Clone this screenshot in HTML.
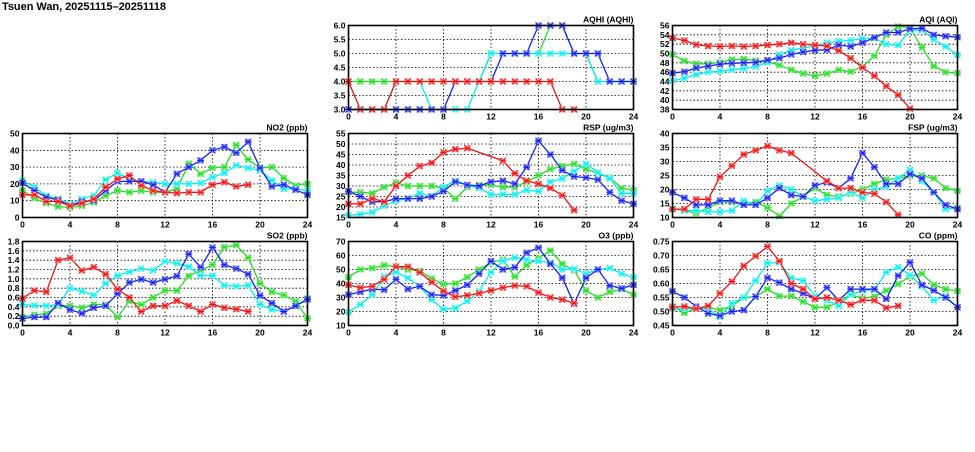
<!DOCTYPE html>
<html><head><meta charset="utf-8"><style>
html,body{margin:0;padding:0;background:#fff;}
svg text{font-family:"Liberation Sans",sans-serif;font-weight:bold;font-size:8.5px;fill:#000;}
</style></head><body>
<svg id="s" width="975" height="447" xmlns="http://www.w3.org/2000/svg">
<text x="2" y="10" style="font-size:11px;font-weight:bold" textLength="164">Tsuen Wan, 20251115–20251118</text>
</svg>
<script>
var panels=[
{t:"AQHI (AQHI)",x:348.5,y:25.5,min:3,max:6,step:0.5,d:1,s:[
[4,4,4,4,4,4,4,4,4,4,4,4,5,5,5,5,5,6,6,5,5,4,4,4,4],
[3,3,3,3,4,4,4,3,3,3,3,4,5,5,5,5,5,5,5,5,5,4,4,4,4],
[3,3,3,3,3,3,3,3,3,4,4,4,4,5,5,5,6,6,6,5,5,5,4,4,4],
[4,3,3,3,4,4,4,4,4,4,4,4,4,4,4,4,4,4,3,3]]},
{t:"AQI (AQI)",x:672.5,y:25.5,min:38,max:56,step:2,d:0,s:[
[49.8,48.4,47.8,47.8,48.1,48.7,48.8,48.5,48.2,47.5,46.5,45.7,45.2,45.7,46.5,46.1,47.2,49.5,54,55.8,55.5,51.3,47.3,46,45.8],
[44.2,44.7,45.5,46,46.2,46.5,46.8,47.2,48.1,49.8,50.7,51.2,51.6,52.3,52.6,52.8,53.2,53.3,52,51.8,55,55,53,51.5,49.7],
[45.8,46.1,46.9,47.3,47.7,47.9,48,48.1,48.6,49,49.8,50.3,50.7,50.8,51.8,51.5,52.3,53.4,54.5,54.5,55.3,55.4,54,53.7,53.5],
[53.3,52.8,51.9,51.6,51.5,51.6,51.5,51.6,51.8,52,52.3,52,51.8,51.6,50.6,49,47,45.2,43,41.1,38.2]]},
{t:"NO2 (ppb)",x:22.5,y:133.5,min:0,max:50,step:10,d:0,s:[
[16,11.5,8.5,6.5,6,7,9,13,16,15,16,15,15,17,32,26,29.5,30,43,34.5,29.5,30,23.5,19,20],
[22,18,13,11,8,11,13,22.5,26.5,23,21.5,21,20,20,20,20.5,24,26.5,31,29.5,28,22,17,17,16],
[20.5,16,12,10.5,7,9.5,10,16,21.5,21.5,21.5,19.5,15,26,30,34,40,42,38.5,45,29.5,18.5,19.5,16.5,13.5],
[13.5,13.5,9.5,9.5,7,8.5,11,18,23,25,19,16,15,14.5,15,15,19.5,21,18.5,19.5]]},
{t:"RSP (ug/m3)",x:348.5,y:133.5,min:15,max:55,step:5,d:0,s:[
[27,27,26.5,29.5,31.5,30,30,30,29,24,29.5,30.5,30.5,29.5,29.5,32,35,38,39.5,40.5,38,36,34,29,28],
[16,16.5,17.5,20.5,23,24,26.5,25,29.5,32.5,30.5,29,26,26,26,28,27.5,32,33.5,37,40.5,36.5,33.5,26.5,26.5],
[27.5,25,22.5,22.5,24,24,24,25,27.5,32,30.5,30,32,32.5,31,39,51.5,45,37.5,34.5,34,33,27,23,21.5],
[21.5,21.5,24,22.5,30,35,39.5,41,46,47.5,48,'g','g',42,36,32.5,31,29,25.5,18.5]]},
{t:"FSP (ug/m3)",x:672.5,y:133.5,min:10,max:40,step:5,d:0,s:[
[13,12.5,11.5,13.5,15.5,15.5,15,15.5,13.5,10.5,15,17.5,20.5,18,17.5,18.5,20,22,23.5,24,25,25,24,20.5,19.5],
[13,12.5,12.5,12,12,12.5,16,14.5,19.5,21.5,20,17.5,16,16.5,17,19,17,20,21,24,27,23,19,13,13.5],
[19,17,14.5,14.5,16,16,14.5,14.5,17,20.5,18,17.5,21.5,22.5,20.5,24,33,28,22,22,25.5,24,19,14.5,13],
[13,13,16.5,16.5,24.5,28.5,32.5,34,35.5,34,33,'g','g',23,20.5,20.5,19,18.5,15.5,11]]},
{t:"SO2 (ppb)",x:22.5,y:241.5,min:0,max:1.8,step:0.2,d:1,s:[
[.18,.23,.25,.42,.42,.38,.45,.45,.18,.52,.45,.6,.75,.75,1.06,1.18,1.3,1.68,1.72,1.45,.9,.72,.65,.52,.15],
[.45,.43,.42,.45,.8,.73,.65,.9,1.07,1.15,1.22,1.18,1.37,1.33,1.26,1.07,1.07,.86,.84,.86,.45,.34,.3,.42,.58],
[.15,.18,.18,.48,.34,.26,.38,.42,.68,.92,.99,.92,.99,1.06,1.53,1.25,1.67,1.3,1.22,1.1,.64,.48,.3,.42,.56],
[.58,.75,.72,1.4,1.45,1.18,1.25,1.1,.78,.6,.3,.42,.42,.53,.42,.3,.45,.38,.35,.3]]},
{t:"O3 (ppb)",x:348.5,y:241.5,min:10,max:70,step:10,d:0,s:[
[44.5,50,51,53,52,50,49,43.5,39.5,40,44.5,50,55,57,45,53,58,63.5,54,49.5,35,30,34,36,32],
[19.5,25,32,45,48,44,38,28.5,21.5,22.5,27.5,34.5,48,56,58.5,57,56,55,50,50.5,47,50,51,47,44.5],
[32,34,36,35.5,43,36,38,32,31.5,35,39,47,56,50,51.5,62,65.5,54,44,25.5,44,50,38.5,36.5,39],
[39,37,38,43,52,52,48,41,34.5,30.5,31.5,33,35,37,38.5,38,33.5,30,28.5,26]]},
{t:"CO (ppm)",x:672.5,y:241.5,min:.45,max:.75,step:.05,d:2,s:[
[.518,.495,.51,.515,.505,.52,.55,.553,.58,.555,.555,.535,.515,.515,.535,.56,.547,.553,.575,.598,.625,.635,.595,.58,.573],
[.51,.51,.51,.51,.48,.53,.55,.61,.673,.675,.62,.61,.555,.54,.52,.56,.575,.578,.64,.658,.63,.59,.54,.555,.515],
[.572,.55,.518,.493,.485,.5,.505,.553,.62,.603,.58,.565,.545,.585,.54,.58,.58,.58,.545,.628,.675,.595,.575,.55,.515],
[.515,.518,.51,.52,.565,.607,.663,.698,.732,.68,.6,.58,.545,.55,.54,.525,.54,.54,.513,.52]]}
];
var cols=["#22dd22","#00eeee","#1020ee","#ee1010"],mk=["#99ee99","#99ffff","#9999ff","#ff9999"];
var W=285,H=84,o='';
panels.forEach(function(p){
 var X=function(i){return p.x+i*W/24}, Y=function(v){return p.y+H-(v-p.min)/(p.max-p.min)*H};
 o+='<text x="'+(p.x+W)+'" y="'+(p.y-3)+'" text-anchor="end">'+p.t+'</text>';
 for(var i=4;i<24;i+=4)o+='<line x1="'+X(i)+'" x2="'+X(i)+'" y1="'+p.y+'" y2="'+(p.y+H)+'" stroke="#000" stroke-width="0.8" stroke-dasharray="1.5,2"/>';
 var n=Math.round((p.max-p.min)/p.step);
 for(var k=0;k<=n;k++){var v=p.min+k*p.step,y=Y(v);
  if(k>0&&k<n)o+='<line x1="'+p.x+'" x2="'+(p.x+W)+'" y1="'+y+'" y2="'+y+'" stroke="#000" stroke-width="0.8" stroke-dasharray="1.5,2"/>';
  o+='<text x="'+(p.x-3)+'" y="'+(y+3)+'" text-anchor="end">'+v.toFixed(p.d)+'</text>';}
 for(var i=0;i<=24;i+=4)o+='<text x="'+X(i)+'" y="'+(p.y+H+10)+'" text-anchor="middle">'+i+'</text>';
 p.s.forEach(function(s,si){
  var pts=[];s.forEach(function(v,i){if(typeof v=='number')pts.push(X(i).toFixed(1)+','+Y(v).toFixed(1));});
  o+='<polyline points="'+pts.join(' ')+'" fill="none" stroke="'+cols[si]+'" stroke-width="1.3"/>';
  s.forEach(function(v,i){if(typeof v!='number')return;var x=X(i),y=Y(v);
   o+='<rect x="'+(x-3)+'" y="'+(y-3)+'" width="6" height="6" fill="'+mk[si]+'"/>';
   o+='<path d="M'+(x-3)+' '+(y-3)+'L'+(x+3)+' '+(y+3)+'M'+(x-3)+' '+(y+3)+'L'+(x+3)+' '+(y-3)+'M'+(x-3.5)+' '+y+'L'+(x+3.5)+' '+y+'" stroke="'+cols[si]+'" stroke-width="1"/>';});
 });
 o+='<rect x="'+p.x+'" y="'+p.y+'" width="'+W+'" height="'+H+'" fill="none" stroke="#000" stroke-width="1.6"/>';
});
document.getElementById('s').insertAdjacentHTML('beforeend',o);
</script>
</body></html>
